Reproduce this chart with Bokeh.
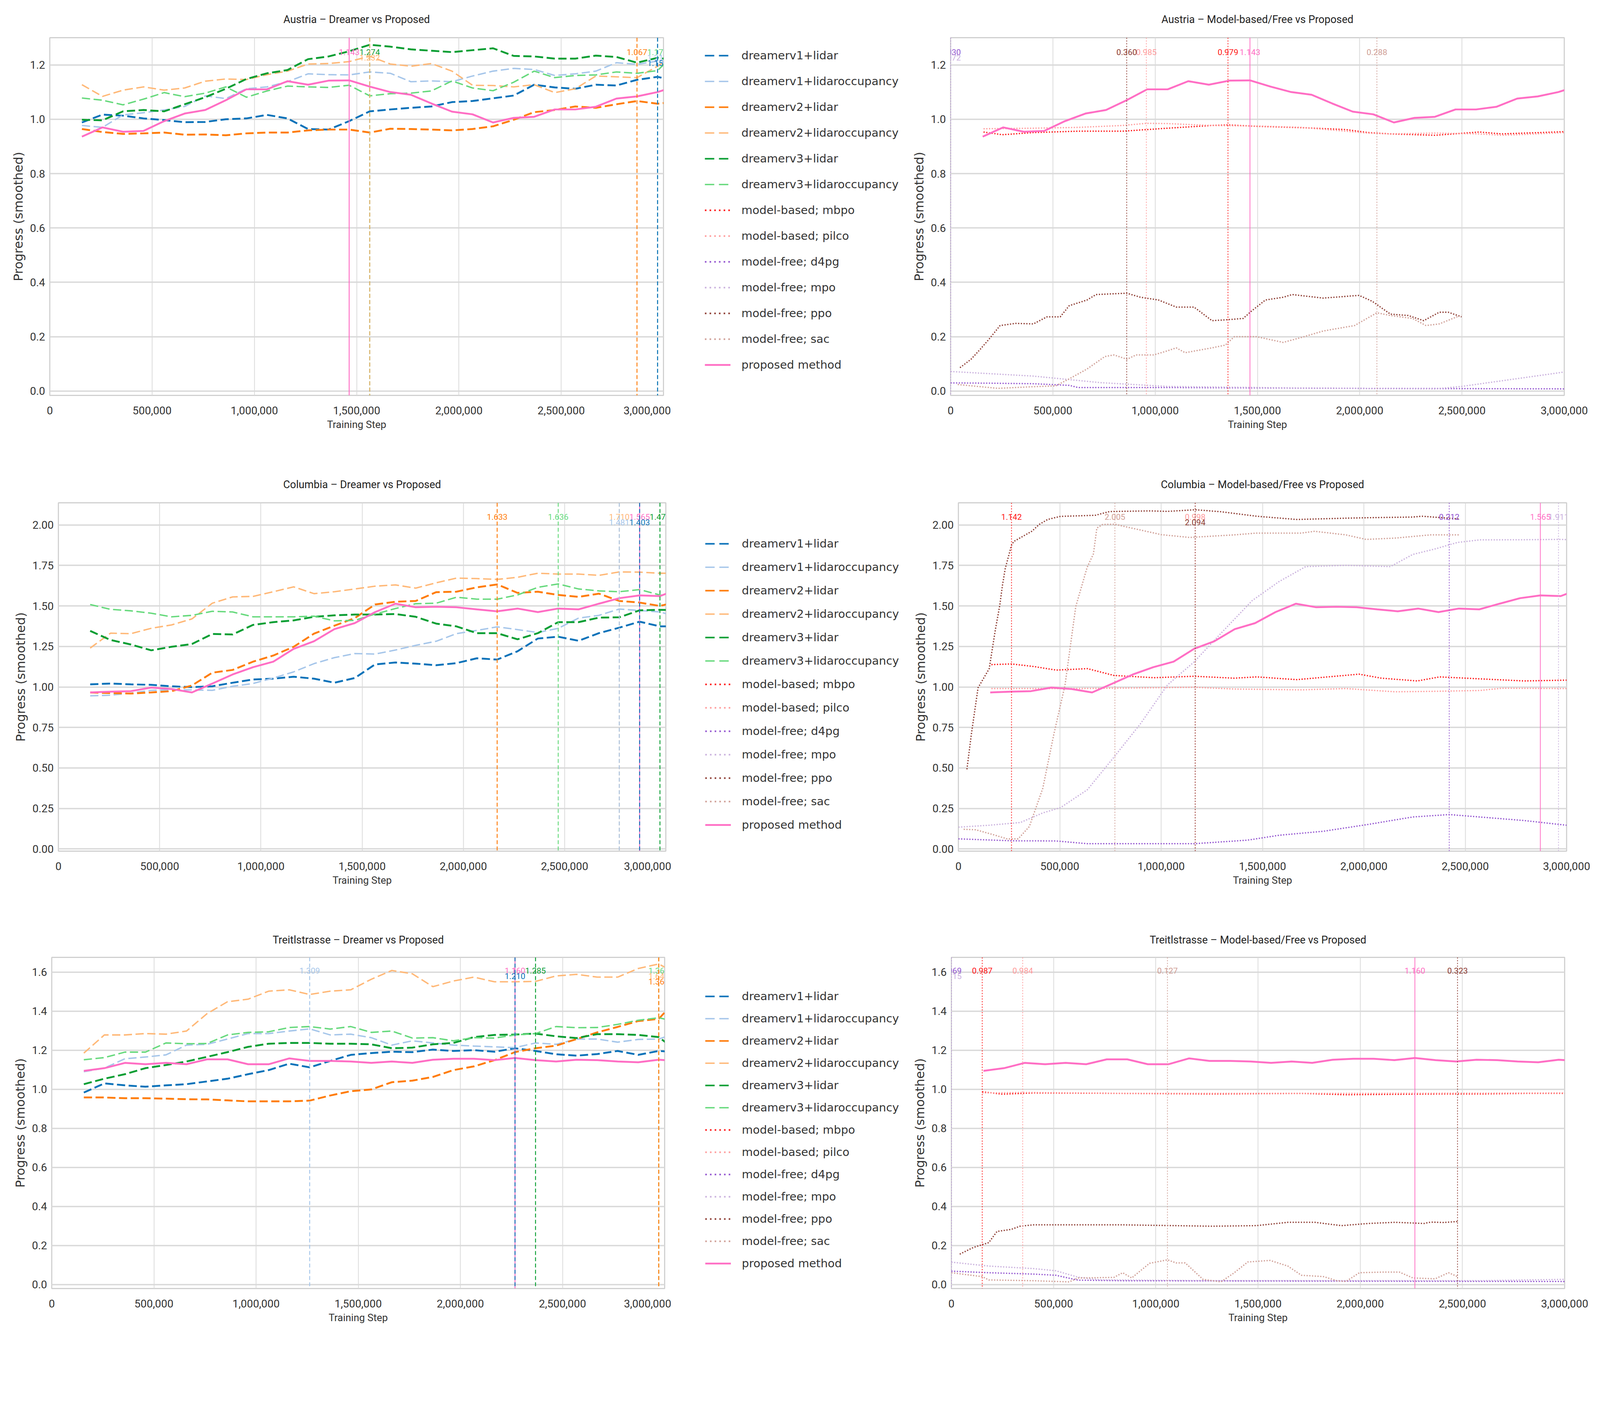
import numpy as np
from bokeh.plotting import figure
from bokeh.models import Range1d, Span, Legend, LegendItem, NumeralTickFormatter, Label
from bokeh.layouts import row, column
from bokeh.embed import file_html
from bokeh.resources import INLINE

NARROW = "Roboto"
WIDE = "DejaVu Sans"
S = 0.9427  # page px -> css px (the photographed page comes out ~6% larger)


def px(v):
    return int(round(v * S))


def fs(v):
    return "%dpx" % int(round(v * S))


# ---------------- data ----------------
X_MAX = 3000000
X_TICKS = [0, 500000, 1000000, 1500000, 2000000, 2500000, 3000000]
Y_TICKS_AUS = [0.0, 0.2, 0.4, 0.6, 0.8, 1.0, 1.2]
Y_TICKS_COL = [0.0, 0.25, 0.5, 0.75, 1.0, 1.25, 1.5, 1.75, 2.0]
Y_TICKS_TRE = [0.0, 0.2, 0.4, 0.6, 0.8, 1.0, 1.2, 1.4, 1.6]

DREAMER_NAMES = ["dreamerv1+lidar", "dreamerv1+lidaroccupancy", "dreamerv2+lidar",
                 "dreamerv2+lidaroccupancy", "dreamerv3+lidar", "dreamerv3+lidaroccupancy"]
MODEL_NAMES = ["model-based; mbpo", "model-based; pilco", "model-free; d4pg",
               "model-free; mpo", "model-free; ppo", "model-free; sac"]
PROPOSED_NAME = "proposed method"

# evaluation steps of dreamer runs / proposed method (last one lies past the axis limit)
STEPS = [157000, 257500, 358000, 458500, 559000, 659500, 760000, 860500, 961000, 1061500,
         1162000, 1262500, 1363000, 1463500, 1564000, 1664500, 1765000, 1865500, 1966000, 2066500,
         2167000, 2267500, 2368000, 2468500, 2569000, 2669500, 2770000, 2870500, 2971000, 3071500]

# ---- Austria ----
AUS_PROPOSED = [0.936, 0.970, 0.954, 0.957, 0.993, 1.021, 1.034, 1.070, 1.110, 1.110, 1.140, 1.127, 1.142, 1.143, 1.120,
                1.100, 1.090, 1.058, 1.028, 1.018, 0.988, 1.005, 1.009, 1.036, 1.036, 1.046, 1.076, 1.084, 1.100, 1.124]
AUS_V1_LIDAR = [0.988, 1.017, 1.013, 1.003, 0.997, 0.989, 0.990, 1.000, 1.003, 1.016, 1.003, 0.964, 0.962, 0.993, 1.029,
                1.036, 1.042, 1.047, 1.063, 1.067, 1.077, 1.087, 1.127, 1.117, 1.112, 1.127, 1.124, 1.145, 1.156, 1.139]
AUS_V1_OCC = [0.977, 0.970, 1.016, 1.024, 1.034, 1.047, 1.086, 1.076, 1.112, 1.119, 1.138, 1.167, 1.164, 1.163, 1.174,
              1.169, 1.138, 1.141, 1.138, 1.159, 1.177, 1.187, 1.183, 1.161, 1.167, 1.177, 1.208, 1.202, 1.214, 1.200]
AUS_V2_LIDAR = [0.964, 0.953, 0.946, 0.948, 0.951, 0.943, 0.944, 0.941, 0.948, 0.951, 0.951, 0.959, 0.962, 0.962, 0.951,
                0.965, 0.964, 0.962, 0.959, 0.964, 0.974, 0.998, 1.026, 1.034, 1.047, 1.042, 1.055, 1.067, 1.057, 1.066]
AUS_V2_OCC = [1.127, 1.084, 1.107, 1.119, 1.107, 1.115, 1.140, 1.148, 1.146, 1.164, 1.177, 1.203, 1.205, 1.212, 1.232,
              1.203, 1.195, 1.205, 1.177, 1.125, 1.124, 1.119, 1.127, 1.098, 1.112, 1.159, 1.156, 1.153, 1.195, 1.247]
AUS_V3_LIDAR = [0.998, 0.996, 1.029, 1.034, 1.029, 1.055, 1.081, 1.112, 1.148, 1.169, 1.181, 1.221, 1.231, 1.250, 1.274,
                1.267, 1.257, 1.252, 1.247, 1.254, 1.261, 1.233, 1.231, 1.223, 1.223, 1.234, 1.229, 1.208, 1.226, 1.216]
AUS_V3_OCC = [1.078, 1.070, 1.053, 1.074, 1.098, 1.083, 1.096, 1.119, 1.081, 1.104, 1.122, 1.119, 1.117, 1.125, 1.086,
              1.094, 1.096, 1.104, 1.141, 1.115, 1.105, 1.136, 1.177, 1.153, 1.161, 1.163, 1.174, 1.169, 1.179, 1.252]

AUS_MBPO_X = [161000, 253000, 405000, 623000, 841000, 1060000, 1278000, 1356000, 1496000, 1714000, 1932000, 2040000,
              2150000, 2368000, 2477000, 2585000, 2695000, 2804000, 3000000]
AUS_MBPO_Y = [0.953, 0.943, 0.951, 0.956, 0.956, 0.967, 0.977, 0.979, 0.974, 0.969, 0.962, 0.951,
              0.946, 0.941, 0.947, 0.953, 0.946, 0.949, 0.954]
AUS_PILCO_X = [161000, 405000, 623000, 841000, 957000, 1060000, 1278000, 1496000, 1714000, 1932000, 2040000, 2150000,
               2368000, 2585000, 2695000, 2804000, 3000000]
AUS_PILCO_Y = [0.965, 0.967, 0.970, 0.977, 0.985, 0.984, 0.977, 0.975, 0.970, 0.956, 0.949, 0.946,
               0.949, 0.946, 0.941, 0.944, 0.951]
AUS_D4PG_X = [0, 187000, 405000, 580000, 623000, 1060000, 1932000, 3000000]
AUS_D4PG_Y = [0.030, 0.029, 0.027, 0.021, 0.013, 0.013, 0.010, 0.008]
AUS_MPO_X = [0, 405000, 732000, 1060000, 1714000, 2368000, 2498000, 3000000]
AUS_MPO_Y = [0.072, 0.055, 0.031, 0.017, 0.011, 0.008, 0.017, 0.070]
AUS_PPO_X = [46000, 100000, 144000, 187000, 242000, 318000, 405000, 471000, 536000, 580000, 667000, 711000, 861000,
             929000, 1016000, 1103000, 1190000, 1278000, 1343000, 1430000, 1474000, 1539000, 1626000, 1670000,
             1822000, 1997000, 2062000, 2150000, 2237000, 2313000, 2389000, 2433000, 2498000]
AUS_PPO_Y = [0.086, 0.117, 0.153, 0.190, 0.241, 0.249, 0.247, 0.273, 0.273, 0.314, 0.335, 0.355, 0.360,
             0.345, 0.335, 0.309, 0.309, 0.259, 0.262, 0.267, 0.296, 0.335, 0.345, 0.355,
             0.342, 0.352, 0.330, 0.283, 0.278, 0.259, 0.290, 0.290, 0.273]
AUS_SAC_X = [35000, 231000, 405000, 514000, 580000, 667000, 754000, 798000, 863000, 907000, 994000, 1060000, 1103000,
             1147000, 1278000, 1343000, 1387000, 1496000, 1626000, 1714000, 1822000, 1975000, 2084000, 2150000,
             2259000, 2324000, 2389000, 2455000, 2498000]
AUS_SAC_Y = [0.024, 0.010, 0.016, 0.019, 0.045, 0.081, 0.127, 0.133, 0.117, 0.133, 0.133, 0.148, 0.159,
             0.141, 0.159, 0.169, 0.200, 0.200, 0.179, 0.197, 0.221, 0.241, 0.288, 0.278,
             0.267, 0.241, 0.247, 0.267, 0.280]

# ---- Columbia ----
COL_PROPOSED = [0.966, 0.971, 0.974, 0.996, 0.987, 0.966, 1.021, 1.077, 1.122, 1.156, 1.235, 1.282, 1.357, 1.394, 1.462,
                1.514, 1.492, 1.495, 1.492, 1.479, 1.467, 1.484, 1.462, 1.484, 1.479, 1.514, 1.548, 1.565, 1.561, 1.609]
COL_V1_LIDAR = [1.016, 1.021, 1.016, 1.013, 1.004, 0.999, 1.004, 1.026, 1.046, 1.051, 1.063, 1.051, 1.026, 1.055, 1.139,
                1.151, 1.144, 1.134, 1.147, 1.177, 1.169, 1.220, 1.299, 1.310, 1.285, 1.332, 1.366, 1.403, 1.374, 1.374]
COL_V1_OCC = [0.945, 0.949, 0.962, 0.979, 0.982, 0.982, 0.979, 1.004, 1.021, 1.055, 1.093, 1.144, 1.181, 1.206, 1.203,
              1.228, 1.257, 1.282, 1.329, 1.349, 1.371, 1.354, 1.336, 1.362, 1.425, 1.442, 1.481, 1.472, 1.463, 1.428]
COL_V2_LIDAR = [0.966, 0.962, 0.959, 0.966, 0.974, 1.009, 1.088, 1.105, 1.156, 1.194, 1.248, 1.329, 1.378, 1.425, 1.509,
                1.526, 1.531, 1.585, 1.588, 1.615, 1.633, 1.581, 1.588, 1.568, 1.556, 1.576, 1.531, 1.521, 1.500, 1.531]
COL_V2_OCC = [1.240, 1.332, 1.329, 1.362, 1.383, 1.420, 1.517, 1.556, 1.559, 1.588, 1.618, 1.576, 1.588, 1.605, 1.622,
              1.630, 1.610, 1.643, 1.672, 1.669, 1.664, 1.677, 1.702, 1.697, 1.697, 1.689, 1.710, 1.709, 1.702, 1.702]
COL_V3_LIDAR = [1.346, 1.290, 1.262, 1.226, 1.248, 1.265, 1.327, 1.324, 1.383, 1.400, 1.411, 1.433, 1.442, 1.447, 1.447,
                1.450, 1.433, 1.391, 1.374, 1.332, 1.332, 1.294, 1.332, 1.400, 1.400, 1.428, 1.430, 1.473, 1.476, 1.474]
COL_V3_OCC = [1.509, 1.479, 1.470, 1.455, 1.433, 1.442, 1.467, 1.463, 1.433, 1.433, 1.433, 1.437, 1.408, 1.411, 1.450,
              1.484, 1.514, 1.517, 1.554, 1.542, 1.542, 1.568, 1.615, 1.636, 1.605, 1.593, 1.588, 1.601, 1.568, 1.551]

COL_MBPO_X = [163000, 262000, 372000, 482000, 636000, 767000, 965000, 1163000, 1361000, 1471000, 1669000, 1977000,
              2087000, 2263000, 2373000, 2571000, 2791000, 3000000]
COL_MBPO_Y = [1.138, 1.142, 1.126, 1.104, 1.113, 1.071, 1.057, 1.066, 1.054, 1.062, 1.045, 1.079,
              1.054, 1.037, 1.062, 1.050, 1.037, 1.042]
COL_PILCO_X = [163000, 592000, 1168000, 1361000, 1691000, 1911000, 2153000, 2351000, 2571000, 2681000, 3000000]
COL_PILCO_Y = [0.990, 0.990, 0.998, 0.987, 0.982, 0.990, 0.970, 0.973, 0.978, 0.992, 0.990]
COL_D4PG_X = [0, 262000, 482000, 636000, 1163000, 1427000, 1581000, 1801000, 2021000, 2241000, 2421000, 2571000,
              2791000, 3000000]
COL_D4PG_Y = [0.062, 0.050, 0.049, 0.032, 0.032, 0.054, 0.084, 0.109, 0.151, 0.197, 0.212, 0.197, 0.175, 0.146]
COL_MPO_X = [0, 152000, 306000, 416000, 504000, 636000, 767000, 900000, 1031000, 1163000, 1295000, 1449000, 1581000,
             1713000, 1911000, 2131000, 2241000, 2351000, 2461000, 2571000, 2791000, 2960000, 3000000]
COL_MPO_Y = [0.134, 0.146, 0.163, 0.222, 0.255, 0.365, 0.566, 0.776, 1.012, 1.155, 1.331, 1.533, 1.650,
             1.743, 1.751, 1.743, 1.818, 1.852, 1.892, 1.908, 1.909, 1.911, 1.910]
COL_PPO_X = [42000, 64000, 97000, 152000, 182000, 204000, 217000, 231000, 262000, 273000, 363000, 398000, 440000,
             502000, 676000, 745000, 943000, 1031000, 1168000, 1295000, 1471000, 1669000, 1911000, 2021000, 2241000,
             2285000, 2472000]
COL_PPO_Y = [0.491, 0.709, 0.995, 1.113, 1.351, 1.503, 1.625, 1.731, 1.875, 1.898, 1.962, 2.003, 2.034,
             2.053, 2.060, 2.083, 2.087, 2.084, 2.094, 2.082, 2.054, 2.034, 2.042, 2.045, 2.049,
             2.054, 2.037]
COL_SAC_X = [26000, 86000, 174000, 240000, 295000, 350000, 416000, 471000, 526000, 579000, 635000, 666000, 683000,
             711000, 772000, 815000, 1002000, 1141000, 1361000, 1471000, 1691000, 1757000, 1911000, 2010000, 2153000,
             2329000, 2472000]
COL_SAC_Y = [0.121, 0.118, 0.087, 0.062, 0.062, 0.138, 0.373, 0.709, 1.012, 1.497, 1.738, 1.822, 1.981,
             2.003, 2.005, 1.992, 1.940, 1.923, 1.939, 1.950, 1.950, 1.961, 1.939, 1.911, 1.919,
             1.939, 1.939]

# ---- Treitlstrasse ----
TRE_PROPOSED = [1.094, 1.108, 1.135, 1.128, 1.135, 1.128, 1.153, 1.153, 1.128, 1.128, 1.158, 1.145, 1.145, 1.142, 1.135,
                1.142, 1.135, 1.151, 1.156, 1.156, 1.149, 1.160, 1.149, 1.142, 1.151, 1.149, 1.142, 1.138, 1.151, 1.144]
TRE_V1_LIDAR = [0.983, 1.030, 1.020, 1.013, 1.020, 1.026, 1.040, 1.054, 1.077, 1.098, 1.131, 1.112, 1.145, 1.176, 1.185,
                1.192, 1.190, 1.203, 1.196, 1.200, 1.192, 1.210, 1.196, 1.179, 1.172, 1.180, 1.196, 1.176, 1.196, 1.189]
TRE_V1_OCC = [1.090, 1.108, 1.156, 1.165, 1.176, 1.226, 1.230, 1.257, 1.285, 1.285, 1.298, 1.309, 1.278, 1.282, 1.264,
              1.226, 1.248, 1.237, 1.226, 1.221, 1.217, 1.213, 1.237, 1.230, 1.257, 1.257, 1.241, 1.255, 1.257, 1.292]
TRE_V2_LIDAR = [0.958, 0.958, 0.954, 0.954, 0.952, 0.949, 0.948, 0.943, 0.938, 0.938, 0.938, 0.942, 0.968, 0.990, 0.999,
                1.036, 1.044, 1.063, 1.098, 1.117, 1.149, 1.190, 1.210, 1.223, 1.257, 1.291, 1.319, 1.349, 1.360, 1.474]
TRE_V2_OCC = [1.185, 1.278, 1.278, 1.285, 1.282, 1.298, 1.387, 1.448, 1.461, 1.502, 1.509, 1.485, 1.502, 1.509, 1.563,
              1.608, 1.591, 1.525, 1.554, 1.574, 1.550, 1.550, 1.552, 1.580, 1.588, 1.574, 1.574, 1.618, 1.641, 1.586]
TRE_V3_LIDAR = [1.026, 1.054, 1.077, 1.108, 1.124, 1.142, 1.166, 1.190, 1.217, 1.233, 1.237, 1.237, 1.233, 1.233, 1.230,
                1.210, 1.213, 1.230, 1.237, 1.267, 1.278, 1.280, 1.285, 1.271, 1.262, 1.282, 1.282, 1.278, 1.267, 1.187]
TRE_V3_OCC = [1.151, 1.162, 1.190, 1.190, 1.237, 1.233, 1.234, 1.278, 1.291, 1.294, 1.316, 1.321, 1.308, 1.321, 1.291,
              1.298, 1.262, 1.264, 1.248, 1.264, 1.262, 1.278, 1.285, 1.321, 1.315, 1.316, 1.332, 1.353, 1.366, 1.342]

TRE_MBPO_X = [151000, 249000, 402000, 838000, 1275000, 1712000, 1930000, 2367000, 2585000, 2804000, 3000000]
TRE_MBPO_Y = [0.987, 0.975, 0.981, 0.979, 0.976, 0.979, 0.972, 0.976, 0.976, 0.979, 0.979]
TRE_PILCO_X = [151000, 349000, 838000, 1275000, 1930000, 3000000]
TRE_PILCO_Y = [0.981, 0.984, 0.979, 0.979, 0.979, 0.981]
TRE_D4PG_X = [0, 183000, 402000, 511000, 620000, 838000, 1930000, 3000000]
TRE_D4PG_Y = [0.069, 0.061, 0.054, 0.048, 0.023, 0.020, 0.018, 0.016]
TRE_MPO_X = [0, 183000, 402000, 511000, 620000, 729000, 1275000, 1930000, 2585000, 3000000]
TRE_MPO_Y = [0.115, 0.095, 0.082, 0.071, 0.038, 0.024, 0.020, 0.020, 0.020, 0.027]
TRE_PPO_X = [41000, 107000, 183000, 223000, 293000, 336000, 402000, 838000, 1275000, 1493000, 1646000, 1777000,
             1908000, 2039000, 2170000, 2312000, 2345000, 2410000, 2476000]
TRE_PPO_Y = [0.156, 0.190, 0.215, 0.272, 0.283, 0.299, 0.306, 0.306, 0.299, 0.302, 0.319, 0.319,
             0.302, 0.313, 0.319, 0.313, 0.320, 0.318, 0.323]
TRE_SAC_X = [0, 151000, 183000, 402000, 576000, 620000, 795000, 838000, 882000, 969000, 1057000, 1100000, 1144000,
             1231000, 1319000, 1384000, 1450000, 1559000, 1646000, 1712000, 1821000, 1886000, 1930000, 1996000,
             2105000, 2192000, 2258000, 2367000, 2432000, 2476000]
TRE_SAC_Y = [0.061, 0.041, 0.024, 0.020, 0.014, 0.034, 0.037, 0.061, 0.034, 0.109, 0.127, 0.111, 0.111,
             0.027, 0.014, 0.061, 0.116, 0.124, 0.095, 0.048, 0.041, 0.020, 0.016, 0.061,
             0.064, 0.064, 0.034, 0.030, 0.061, 0.041]

COLORS = {
    "dreamerv1+lidar": "#0b72b9",
    "dreamerv1+lidaroccupancy": "#a6c6ea",
    "dreamerv2+lidar": "#ff7c0a",
    "dreamerv2+lidaroccupancy": "#ffb877",
    "dreamerv3+lidar": "#0a9e33",
    "dreamerv3+lidaroccupancy": "#66d97c",
    "model-based; mbpo": "#ff1414",
    "model-based; pilco": "#ff9a9a",
    "model-free; d4pg": "#9152cf",
    "model-free; mpo": "#c9b0dd",
    "model-free; ppo": "#8c3a30",
    "model-free; sac": "#cf9e95",
    "proposed method": "#ff6ec4",
}

ROWS = [
    dict(name="Austria", yr=(-0.016, 1.30), yticks=Y_TICKS_AUS, fmt="0.0",
         dreamer=[AUS_V1_LIDAR, AUS_V1_OCC, AUS_V2_LIDAR, AUS_V2_OCC, AUS_V3_LIDAR, AUS_V3_OCC],
         proposed=AUS_PROPOSED,
         model=[(AUS_MBPO_X, AUS_MBPO_Y), (AUS_PILCO_X, AUS_PILCO_Y), (AUS_D4PG_X, AUS_D4PG_Y),
                (AUS_MPO_X, AUS_MPO_Y), (AUS_PPO_X, AUS_PPO_Y), (AUS_SAC_X, AUS_SAC_Y)],
         geom=dict(top=101, fh=972, bottom=190, l=(135, 1667, 20), r=(108, 1667, 86), title_so=66,
                   leg_top=130, leg_sp=30)),
    dict(name="Columbia", yr=(-0.014, 2.137), yticks=Y_TICKS_COL, fmt="0.00",
         dreamer=[COL_V1_LIDAR, COL_V1_OCC, COL_V2_LIDAR, COL_V2_OCC, COL_V3_LIDAR, COL_V3_OCC],
         proposed=COL_PROPOSED,
         model=[(COL_MBPO_X, COL_MBPO_Y), (COL_PILCO_X, COL_PILCO_Y), (COL_D4PG_X, COL_D4PG_Y),
                (COL_MPO_X, COL_MPO_Y), (COL_PPO_X, COL_PPO_Y), (COL_SAC_X, COL_SAC_Y)],
         geom=dict(top=101, fh=946, bottom=188, l=(158, 1649, 15), r=(129, 1652, 80), title_so=66,
                   leg_top=193, leg_sp=23)),
    dict(name="Treitlstrasse", yr=(-0.02, 1.675), yticks=Y_TICKS_TRE, fmt="0.0",
         dreamer=[TRE_V1_LIDAR, TRE_V1_OCC, TRE_V2_LIDAR, TRE_V2_OCC, TRE_V3_LIDAR, TRE_V3_OCC],
         proposed=TRE_PROPOSED,
         model=[(TRE_MBPO_X, TRE_MBPO_Y), (TRE_PILCO_X, TRE_PILCO_Y), (TRE_D4PG_X, TRE_D4PG_Y),
                (TRE_MPO_X, TRE_MPO_Y), (TRE_PPO_X, TRE_PPO_Y), (TRE_SAC_X, TRE_SAC_Y)],
         geom=dict(top=101, fh=900, bottom=105, l=(140, 1664, 18), r=(110, 1665, 86), title_so=62,
                   leg_top=187, leg_sp=20)),
]

TEXT_COLOR = "#333333"
GRID_COLOR = "#d9d9d9"


def make_panel(title, yr, yticks, fmt, geom, side):
    bl, fw, br = geom[side]
    p = figure(frame_width=px(fw), frame_height=px(geom["fh"]),
               min_border_left=px(bl), min_border_right=px(br),
               min_border_top=px(geom["top"]), min_border_bottom=px(geom["bottom"]),
               x_range=Range1d(0, X_MAX), y_range=Range1d(*yr),
               output_backend="svg", toolbar_location=None, title=title)
    p.title.align = "center"
    p.title.text_font = NARROW
    p.title.text_font_size = fs(29)
    p.title.text_font_style = "normal"
    p.title.text_color = "#222222"
    p.title.standoff = px(geom["title_so"])
    p.xaxis.ticker = X_TICKS
    p.xaxis.formatter = NumeralTickFormatter(format="0,0")
    p.yaxis.ticker = yticks
    p.yaxis.formatter = NumeralTickFormatter(format=fmt)
    for ax in p.axis:
        ax.axis_line_color = None
        ax.major_tick_line_color = None
        ax.minor_tick_line_color = None
        ax.major_tick_out = 0
        ax.major_label_text_font = NARROW
        ax.major_label_text_font_size = fs(30)
        ax.major_label_text_color = TEXT_COLOR
        ax.axis_label_text_font_style = "normal"
        ax.axis_label_text_color = TEXT_COLOR
    p.xaxis.major_label_standoff = px(30)
    p.yaxis.major_label_standoff = px(13)
    p.xaxis.axis_label = "Training Step"
    p.xaxis.axis_label_text_font = NARROW
    p.xaxis.axis_label_text_font_size = fs(28)
    p.xaxis.axis_label_standoff = px(9)
    p.yaxis.axis_label = "Progress (smoothed)"
    p.yaxis.axis_label_text_font = WIDE
    p.yaxis.axis_label_text_font_size = fs(34)
    p.yaxis.axis_label_standoff = px(8)
    p.xgrid.grid_line_color = GRID_COLOR
    p.xgrid.grid_line_width = 2 * S
    p.ygrid.grid_line_color = GRID_COLOR
    p.ygrid.grid_line_width = 3.5 * S
    p.outline_line_color = "#d0d0d0"
    p.outline_line_width = 3 * S
    p.background_fill_color = "white"
    p.border_fill_color = "white"
    return p


def add_peaks(p, entries, ytext, vdash, vwidth):
    placed = []
    for name, xs, ys in entries:
        xs = np.asarray(xs, dtype=float)
        ys = np.asarray(ys, dtype=float)
        m = xs <= X_MAX
        i = int(np.argmax(ys[m]))
        pxv, pv = float(xs[m][i]), float(ys[m][i])
        level = 0
        while any(abs(pxv - qx) < 50000 and ql == level for qx, ql in placed):
            level += 1
        placed.append((pxv, level))
        col = COLORS[name]
        dash = "solid" if name == PROPOSED_NAME else vdash
        p.add_layout(Span(location=pxv, dimension="height", line_color=col,
                          line_dash=dash, line_width=vwidth * S))
        p.add_layout(Label(x=pxv, y=ytext, x_units="data", y_units="data", text="%.3f" % pv,
                           text_color=col, text_font=NARROW, text_font_size=fs(22),
                           text_align="center", text_baseline="middle", y_offset=-px(15) * level))


DASH_D = "%d %d" % (px(22), px(10))
DOT_M = "%d %d" % (max(2, px(3)), px(4))

rows_out = []
for r in ROWS:
    g = r["geom"]
    ytext = r["yr"][0] + 0.96 * (r["yr"][1] - r["yr"][0])

    # ---- left: dreamer vs proposed ----
    pl = make_panel("%s \u2013 Dreamer vs Proposed" % r["name"], r["yr"], r["yticks"], r["fmt"], g, "l")
    entries = []
    for i, (nm, ys) in enumerate(zip(DREAMER_NAMES, r["dreamer"])):
        pl.line(STEPS, ys, line_color=COLORS[nm], line_width=(5 if i % 2 == 0 else 3.8) * S, line_dash=DASH_D)
        entries.append((nm, STEPS, ys))
    pl.line(STEPS, r["proposed"], line_color=COLORS[PROPOSED_NAME], line_width=5 * S)
    entries.append((PROPOSED_NAME, STEPS, r["proposed"]))
    add_peaks(pl, list(reversed(entries)), ytext, "%d %d" % (px(11), px(6)), 2.5)

    # ---- right: model-based / free vs proposed ----
    pr = make_panel("%s \u2013 Model-based/Free vs Proposed" % r["name"], r["yr"], r["yticks"], r["fmt"], g, "r")
    entries = []
    for nm, (xs, ys) in zip(MODEL_NAMES, r["model"]):
        pr.line(xs, ys, line_color=COLORS[nm], line_width=3.5 * S, line_dash=DOT_M)
        entries.append((nm, xs, ys))
    pr.line(STEPS, r["proposed"], line_color=COLORS[PROPOSED_NAME], line_width=5 * S)
    entries.append((PROPOSED_NAME, STEPS, r["proposed"]))
    add_peaks(pr, entries, ytext, DOT_M, 2)

    # ---- legend column (frame aligned with the panels of the row) ----
    lf_h = px(g["top"]) + px(g["fh"]) + px(g["bottom"])
    lf = figure(width=px(650), height=lf_h,
                min_border_left=0, min_border_right=0,
                min_border_top=px(g["top"]), min_border_bottom=px(g["bottom"]),
                x_range=Range1d(0, 1), y_range=Range1d(0, 1),
                x_axis_location=None, y_axis_location=None,
                output_backend="svg", toolbar_location=None)
    lf.outline_line_color = None
    lf.grid.visible = False
    items = []
    for i, nm in enumerate(DREAMER_NAMES):
        rr = lf.line([-2, -1], [-2, -1], line_color=COLORS[nm],
                     line_width=(4.5 if i % 2 == 0 else 3.5) * S, line_dash="%d %d" % (px(25), px(13)))
        items.append(LegendItem(label=nm, renderers=[rr]))
    for nm in MODEL_NAMES:
        rr = lf.line([-2, -1], [-2, -1], line_color=COLORS[nm], line_width=4.5 * S,
                     line_dash="%d %d" % (px(4), px(8)))
        items.append(LegendItem(label=nm, renderers=[rr]))
    rr = lf.line([-2, -1], [-2, -1], line_color=COLORS[PROPOSED_NAME], line_width=5 * S)
    items.append(LegendItem(label=PROPOSED_NAME, renderers=[rr]))
    n = len(items)
    item_h = px(40)
    sp = px(g["leg_sp"])
    leg_h = n * item_h + (n - 1) * sp
    frame_bottom = px(g["top"]) + px(g["fh"])
    vy = frame_bottom - px(g["leg_top"]) - leg_h
    legend = Legend(items=items, location=(px(92), vy),
                    border_line_color=None, background_fill_alpha=0,
                    padding=0, margin=0, spacing=sp,
                    glyph_width=px(70), glyph_height=item_h, label_height=item_h, label_standoff=px(30),
                    label_text_font=WIDE, label_text_font_size=fs(31), label_text_color=TEXT_COLOR)
    lf.add_layout(legend)

    rows_out.append(row(pl, lf, pr))

page = column(*rows_out)
open("out.html", "w").write(file_html(page, INLINE))
